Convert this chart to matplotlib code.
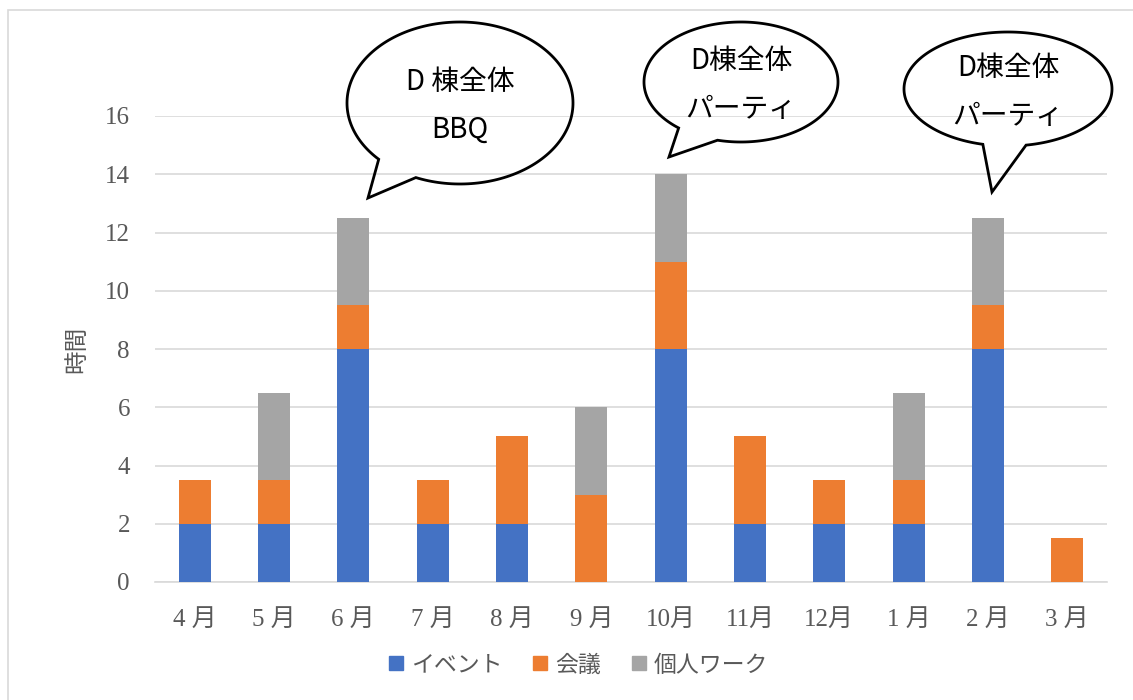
import numpy as np
import matplotlib.pyplot as plt
from matplotlib.patches import Polygon, Rectangle
from matplotlib.lines import Line2D

plt.rcParams['font.family'] = ['Liberation Serif', 'Noto Sans CJK JP', 'DejaVu Sans']

months = ['4 月', '5 月', '6 月', '7 月', '8 月', '9 月', '10月', '11月', '12月', '1 月', '2 月', '3 月']
event = [2, 2, 8, 2, 2, 0, 8, 2, 2, 2, 8, 0]
meeting = [1.5, 1.5, 1.5, 1.5, 3, 3, 3, 3, 1.5, 1.5, 1.5, 1.5]
personal = [0, 3, 3, 0, 0, 3, 3, 0, 0, 3, 3, 0]
series_names = ['イベント', '会議', '個人ワーク']
colors = ['#4472c4', '#ed7d31', '#a5a5a5']

# callouts: text lines, ellipse centre / radii (px), tail base angles, tail tip (px)
callouts = [
    (['D 棟全体', 'BBQ'], (460, 103), (113, 81), (113, 136), (368, 198)),
    (['D棟全体', 'パーティ'], (741, 82), (97, 60), (104, 130), (669, 157)),
    (['D棟全体', 'パーティ'], (1008, 89), (104, 57), (80, 104), (992, 192)),
]

W, H = 1133, 700
fig = plt.figure(figsize=(W / 100, H / 100), dpi=100)
ax = fig.add_axes([155 / W, 1 - 582 / H, (1107 - 155) / W, (582 - 116) / H])

x = np.arange(len(months))
bottom = np.zeros(len(months))
for vals, c in zip([event, meeting, personal], colors):
    ax.bar(x, vals, 0.4, bottom=bottom, color=c, zorder=3)
    bottom += np.array(vals)

ax.set_xlim(-0.5, len(months) - 0.5)
ax.set_ylim(0, 16)
ax.set_yticks(range(0, 17, 2))
ax.set_xticks(x)
ax.set_xticklabels(months)
ax.grid(axis='y', color='#d9d9d9', lw=1.2, zorder=0)
for s in ['top', 'right', 'left']:
    ax.spines[s].set_visible(False)
ax.spines['bottom'].set_color('#d9d9d9')
ax.spines['bottom'].set_linewidth(1.2)
ax.tick_params(axis='both', length=0, labelsize=18, labelcolor='#595959')
ax.tick_params(axis='x', pad=19)
ax.tick_params(axis='y', pad=18)
ax.set_ylabel('時間', fontsize=17, color='#595959', labelpad=12)

handles = [Line2D([], [], marker='s', ls='', markersize=10, color=c) for c in colors]
fig.legend(handles, series_names, loc='center', bbox_to_anchor=(578 / W, 1 - 665 / H),
           ncol=3, frameon=False, labelcolor='#595959',
           handlelength=0.7, handletextpad=0.3, columnspacing=1.3,
           prop={'family': ['Noto Sans CJK JP'], 'size': 16.5})

# chart border
fig.patches.append(Rectangle((8 / W, -0.1), 1.2, 1.1 - 10 / H, transform=fig.transFigure,
                             fill=False, ec='#d9d9d9', lw=1.2))

# speech bubbles (outline only)
for lines, (cx, cy), (a, b), (t1, t2), (tx, ty) in callouts:
    t = np.radians(np.linspace(t2, t1 + 360, 200))
    px = list(cx + a * np.cos(t)) + [tx]
    py = list(cy + b * np.sin(t)) + [ty]
    pts = [(u / W, 1 - v / H) for u, v in zip(px, py)]
    fig.patches.append(Polygon(pts, closed=True, fill=False, ec='black', lw=2,
                               transform=fig.transFigure, zorder=5))
    for i, line in enumerate(lines):
        yy = cy - 21 + i * 48
        fig.text(cx / W, 1 - yy / H, line, ha='center', va='center', fontsize=20,
                 family=['Noto Sans CJK JP'], color='black', zorder=6)

fig.savefig('out.png', dpi=100)
